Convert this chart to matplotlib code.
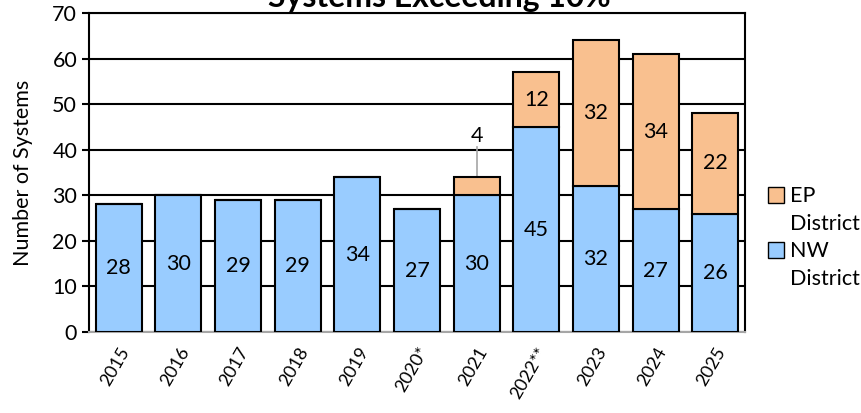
import numpy as np
import matplotlib
matplotlib.use("Agg")
import matplotlib.pyplot as plt
from matplotlib.patches import Patch

plt.rcParams['font.family'] = ['Lato', 'DejaVu Sans']

years = ['2015', '2016', '2017', '2018', '2019', '2020*', '2021', '2022**',
         '2023', '2024', '2025']
nw = [28, 30, 29, 29, 34, 27, 30, 45, 32, 27, 26]
ep = [0, 0, 0, 0, 0, 0, 4, 12, 32, 34, 22]

blue = '#99CCFF'
orange = '#F9C08F'

fig = plt.figure(figsize=(8.62, 4.13), dpi=100)
ax = fig.add_axes([0.1032, 0.196, 0.7611, 0.7725])

x = np.arange(len(years))
w = 0.77
ax.bar(x, nw, w, color=blue, edgecolor='black', linewidth=1.5, zorder=3)
ax.bar(x, ep, w, bottom=nw, color=orange, edgecolor='black', linewidth=1.5, zorder=3)

for i in range(len(years)):
    ax.text(x[i], nw[i] / 2, str(nw[i]), ha='center', va='center', fontsize=15.5, zorder=4)
    if ep[i] >= 10:
        ax.text(x[i], nw[i] + ep[i] / 2, str(ep[i]), ha='center', va='center',
                fontsize=15.5, zorder=4)
    elif ep[i] > 0:
        top = nw[i] + ep[i]
        ax.plot([x[i], x[i]], [top, top + 6.5], color='#A6A6A6', lw=1.2, zorder=2)
        ax.text(x[i], top + 9, str(ep[i]), ha='center', va='center', fontsize=15.5)

ax.set_ylim(0, 70)
ax.set_xlim(-0.5, len(years) - 0.5)
ax.set_yticks(range(0, 71, 10))
ax.yaxis.grid(True, color='black', lw=1.5, zorder=0)
ax.set_axisbelow(True)
ax.set_xticks(x)
ax.set_xticklabels(years, rotation=60, ha='right', rotation_mode='anchor', fontsize=13)
ax.tick_params(axis='x', length=0, pad=9)
ax.tick_params(axis='y', labelsize=15.5, width=1.5, length=5, direction='out')
ax.set_ylabel('Number of Systems', fontsize=15.5, labelpad=14)

for s in ['left', 'right', 'top']:
    ax.spines[s].set_color('black')
    ax.spines[s].set_linewidth(1.5)
ax.spines['bottom'].set_color('#A6A6A6')
ax.spines['bottom'].set_linewidth(1.5)

fig.text(0.510, 0.983, 'Systems Exceeding 10%', ha='center', va='baseline',
         fontsize=23, fontweight='bold')

blank = Patch(facecolor='none', edgecolor='none')
handles = [Patch(facecolor=orange, edgecolor='black'), blank,
           Patch(facecolor=blue, edgecolor='black'), blank]
leg = fig.legend(handles, ['EP', 'District', 'NW', 'District'], loc='upper left',
                 bbox_to_anchor=(0.878, 0.575), frameon=False, fontsize=15.5,
                 handlelength=0.75, handleheight=0.75, handletextpad=0.3,
                 labelspacing=0.35, borderpad=0)

fig.savefig('out.png', dpi=100)
